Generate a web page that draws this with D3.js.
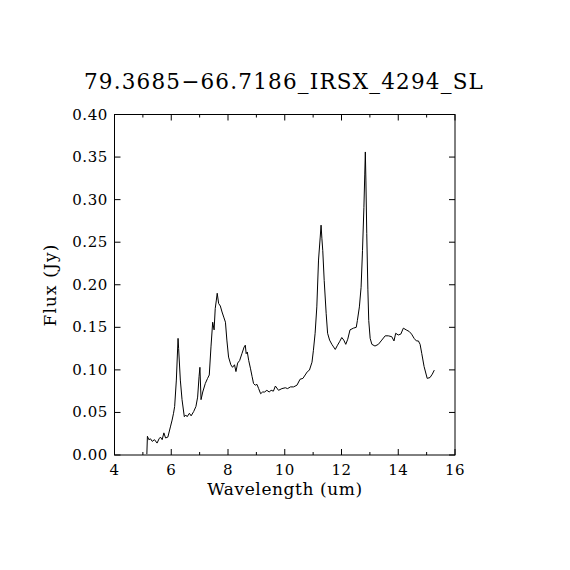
<!DOCTYPE html>
<html>
<head>
<meta charset="utf-8">
<script src="https://cdn.jsdelivr.net/npm/d3@7"></script>
<style>
  body { margin: 0; background: #fff; }
  svg text { font-family: "DejaVu Serif", "Liberation Serif", serif; fill: #000; }
</style>
</head>
<body>
<svg id="chart" width="570" height="570"></svg>
<script>
// spectrum
const wavelength = [5.14,5.16,5.21,5.27,5.33,5.41,5.50,5.57,5.62,5.68,5.74,5.80,5.88,5.97,6.03,6.08,6.12,6.18,6.24,6.26,
  6.32,6.38,6.46,6.51,6.56,6.64,6.70,6.79,6.87,6.93,6.98,7.01,7.05,7.11,7.20,7.28,7.34,7.40,7.46,7.51,
  7.55,7.59,7.62,7.67,7.73,7.79,7.85,7.91,7.96,8.02,8.10,8.16,8.23,8.28,8.34,8.41,8.49,8.57,8.61,8.64,
  8.68,8.73,8.79,8.85,8.90,8.96,9.02,9.08,9.15,9.22,9.29,9.37,9.45,9.52,9.60,9.67,9.78,9.90,10.02,10.10,
  10.20,10.31,10.43,10.54,10.64,10.72,10.80,10.87,10.96,11.01,11.07,11.13,11.19,11.25,11.28,11.31,11.34,11.39,11.46,11.51,
  11.58,11.66,11.72,11.78,11.86,11.93,12.01,12.08,12.15,12.22,12.30,12.42,12.52,12.56,12.63,12.69,12.74,12.79,12.82,12.84,
  12.86,12.89,12.93,12.96,13.01,13.07,13.18,13.30,13.42,13.54,13.65,13.77,13.85,13.91,14.00,14.09,14.18,14.28,14.39,14.47,
  14.56,14.64,14.71,14.77,14.83,14.91,15.02,15.12,15.20,15.27];
const flux = [0.001,0.022,0.018,0.019,0.016,0.018,0.014,0.019,0.021,0.018,0.026,0.020,0.021,0.033,0.041,0.049,0.057,0.088,0.137,0.125,
  0.088,0.065,0.045,0.047,0.045,0.049,0.046,0.051,0.057,0.068,0.092,0.103,0.065,0.074,0.084,0.090,0.094,0.127,0.156,0.147,
  0.172,0.182,0.190,0.178,0.175,0.168,0.162,0.156,0.135,0.115,0.106,0.103,0.106,0.098,0.108,0.111,0.119,0.127,0.129,0.119,
  0.121,0.111,0.102,0.092,0.084,0.082,0.083,0.078,0.072,0.074,0.074,0.076,0.074,0.076,0.075,0.081,0.076,0.078,0.079,0.078,
  0.080,0.080,0.082,0.089,0.090,0.094,0.098,0.0997,0.109,0.123,0.143,0.174,0.229,0.256,0.270,0.254,0.240,0.205,0.166,0.143,
  0.135,0.130,0.127,0.124,0.129,0.133,0.138,0.135,0.130,0.136,0.147,0.149,0.150,0.158,0.174,0.197,0.240,0.291,0.330,0.356,
  0.323,0.260,0.194,0.158,0.137,0.130,0.128,0.130,0.135,0.140,0.140,0.139,0.134,0.143,0.141,0.142,0.149,0.147,0.145,0.142,
  0.137,0.134,0.134,0.130,0.119,0.104,0.090,0.091,0.095,0.0997];

const xMajor = [4, 6, 8, 10, 12, 14, 16];
const xMinor = [5, 7, 9, 11, 13, 15];
const yMajor = [0, 0.05, 0.10, 0.15, 0.20, 0.25, 0.30, 0.35, 0.40];

const title = "79.3685\u221266.7186_IRSX_4294_SL";

const plotLeft = 114.5, plotRight = 455, plotTop = 114.5, plotBottom = 455;
const x = d3.scaleLinear().domain([4, 16]).range([plotLeft, plotRight]);
const y = d3.scaleLinear().domain([0, 0.4]).range([plotBottom, plotTop]);

const svg = d3.select('#chart');

// frame
svg.append('rect')
    .attr('x', plotLeft).attr('y', plotTop)
    .attr('width', plotRight - plotLeft).attr('height', plotBottom - plotTop)
    .attr('fill', 'none').attr('stroke', '#000').attr('stroke-width', 1);

// bottom and top ticks, pointing in
const tickG = svg.append('g').attr('stroke', '#000').attr('stroke-width', 1);
xMajor.forEach(v => {
    tickG.append('line').attr('x1', x(v)).attr('x2', x(v)).attr('y1', plotBottom).attr('y2', plotBottom - 6);
    tickG.append('line').attr('x1', x(v)).attr('x2', x(v)).attr('y1', plotTop).attr('y2', plotTop + 6);
});
xMinor.forEach(v => {
    tickG.append('line').attr('x1', x(v)).attr('x2', x(v)).attr('y1', plotBottom).attr('y2', plotBottom - 3);
    tickG.append('line').attr('x1', x(v)).attr('x2', x(v)).attr('y1', plotTop).attr('y2', plotTop + 3);
});
yMajor.forEach(v => {
    tickG.append('line').attr('x1', plotLeft).attr('x2', plotLeft + 6).attr('y1', y(v)).attr('y2', y(v));
    tickG.append('line').attr('x1', plotRight).attr('x2', plotRight - 6).attr('y1', y(v)).attr('y2', y(v));
});

// tick labels
svg.append('g').selectAll('text').data(xMajor).join('text')
    .attr('x', d => x(d)).attr('y', 475)
    .attr('text-anchor', 'middle').attr('font-size', 15).attr('letter-spacing', 0.5)
    .text(d => d);

svg.append('g').selectAll('text').data(yMajor).join('text')
    .attr('x', 108).attr('y', d => y(d) + 5)
    .attr('text-anchor', 'end').attr('font-size', 15).attr('letter-spacing', 0.6)
    .text(d => d3.format('.2f')(d));

// labels
svg.append('text')
    .attr('x', 284).attr('y', 89)
    .attr('text-anchor', 'middle').attr('font-size', 21.5).attr('letter-spacing', 1.2)
    .text(title);

svg.append('text')
    .attr('x', 285).attr('y', 495)
    .attr('text-anchor', 'middle').attr('font-size', 17).attr('letter-spacing', 0.6)
    .text('Wavelength (um)');

svg.append('text')
    .attr('transform', 'translate(56,285) rotate(-90)')
    .attr('text-anchor', 'middle').attr('font-size', 17).attr('letter-spacing', 1.1)
    .text('Flux (Jy)');

// spectrum
const line = d3.line()
    .x((d, i) => x(wavelength[i]))
    .y(d => y(d));

svg.append('path')
    .datum(flux)
    .attr('d', line)
    .attr('fill', 'none')
    .attr('stroke', '#000')
    .attr('stroke-width', 1);
</script>
</body>
</html>
